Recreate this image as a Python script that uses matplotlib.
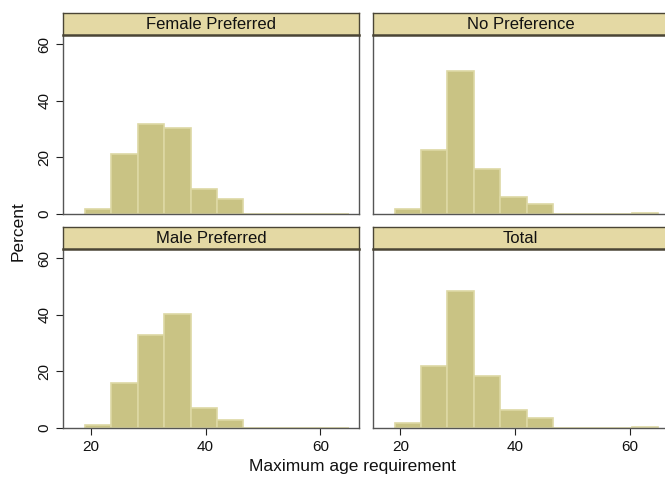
import numpy as np
import matplotlib.pyplot as plt

# histogram bins (maximum age, width 4.6 from 19 to 65)
bin_edges = [19.0, 23.6, 28.2, 32.8, 37.4, 42.0, 46.6, 51.2, 55.8, 60.4, 65.0]

panel_titles = ["Female Preferred", "No Preference", "Male Preferred", "Total"]

female_pct = [1.6, 21.1, 31.9, 30.6, 8.9, 5.3, 0, 0, 0, 0]
nopref_pct = [1.6, 22.5, 50.5, 15.8, 5.9, 3.5, 0, 0, 0, 0.3]
male_pct = [1.0, 15.8, 32.9, 40.2, 7.2, 2.9, 0, 0, 0, 0]
total_pct = [1.6, 22.0, 48.4, 18.5, 6.4, 3.6, 0, 0, 0, 0.2]

x_ticks = [20, 40, 60]
y_ticks = [0, 20, 40, 60]

plt.rcParams['font.family'] = ['Liberation Sans', 'DejaVu Sans']
plt.rcParams['font.size'] = 11

W, H = 665, 478
fig = plt.figure(figsize=(W / 100, H / 100), dpi=100)

bar_fill = '#c9c384'
bar_edge = '#ddd8a4'
strip_fill = '#e4d9a4'
strip_edge = '#4a4535'
spine_col = '#555555'

# axes boxes in pixels: (left, top, right, bottom)
boxes = [(63, 34.5, 359, 214), (373, 34.5, 668, 214),
         (63, 248.5, 359, 428), (373, 248.5, 668, 428)]
strip_h = 21.5

data = [female_pct, nopref_pct, male_pct, total_pct]
edges = np.array(bin_edges)
widths = np.diff(edges)

for i, (box, title, pct) in enumerate(zip(boxes, panel_titles, data)):
    l, t, r, b = box
    ax = fig.add_axes([l / W, 1 - b / H, (r - l) / W, (b - t) / H])
    ax.bar(edges[:-1], pct, width=widths, align='edge', color=bar_fill,
           edgecolor=bar_edge, linewidth=1.2, zorder=2)
    ax.set_xlim(15.2, 66.7)
    ax.set_ylim(0, 63.5)
    for s in ax.spines.values():
        s.set_color(spine_col)
        s.set_linewidth(1.0)
    ax.spines['top'].set_visible(False)
    ax.tick_params(direction='out', length=5, width=0.8, color='#222222',
                   labelcolor='#111111', labelsize=11)
    ax.set_xticks(x_ticks)
    ax.set_yticks(y_ticks)
    if i < 2:
        ax.tick_params(axis='x', length=0, labelbottom=False)
    if i % 2 == 1:
        ax.tick_params(axis='y', length=0, labelleft=False)
    else:
        for lab in ax.get_yticklabels():
            lab.set_rotation(90)
            lab.set_va('center')

    # strip title
    sax = fig.add_axes([l / W, 1 - t / H, (r - l) / W, strip_h / H])
    sax.set_xticks([])
    sax.set_yticks([])
    sax.set_facecolor(strip_fill)
    for s in sax.spines.values():
        s.set_color(strip_edge)
        s.set_linewidth(1.0)
    sax.spines['bottom'].set_linewidth(1.8)
    sax.text(0.5, 0.48, title, ha='center', va='center', transform=sax.transAxes,
             color='#111111', fontsize=12)

fig.text(352 / W, 1 - 466 / H, "Maximum age requirement", ha='center', va='center',
         fontsize=12.5, color='#111111')
fig.text(18 / W, 1 - 231 / H, "Percent", ha='center', va='center', rotation=90,
         fontsize=12.5, color='#111111')

fig.savefig('out.png', dpi=100)
